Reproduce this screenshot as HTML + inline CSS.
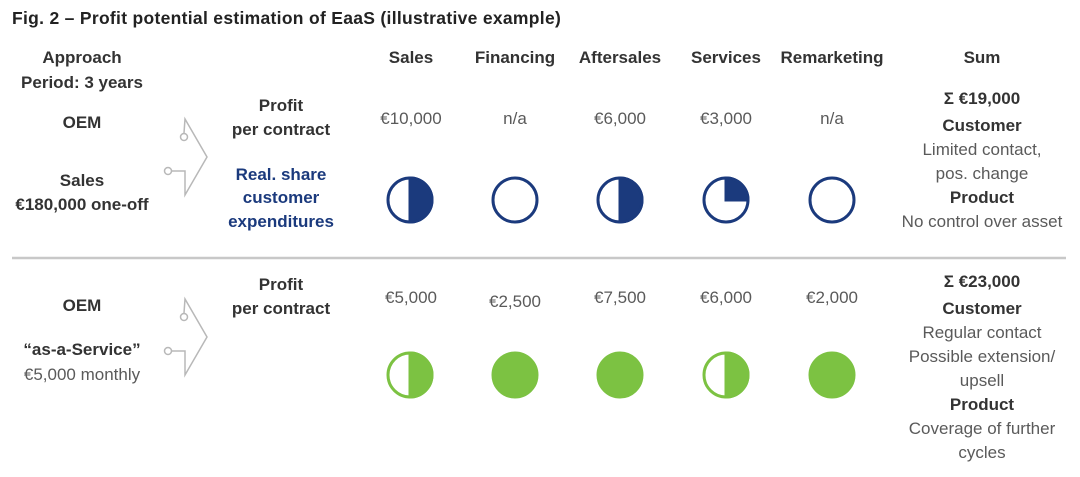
<!DOCTYPE html>
<html><head><meta charset="utf-8"><style>
body{margin:0;width:1080px;height:477px;background:#fff;position:relative;overflow:hidden;font-family:"Liberation Sans",Arial,sans-serif;}
.t{position:absolute;width:240px;text-align:center;font-size:17px;line-height:24px;color:#5a5a5a;white-space:nowrap;}
.b{font-weight:bold;color:#333;}
.bl{font-weight:bold;color:#1b3a7d;}
</style></head><body>
<div style="position:absolute;left:12px;top:8px;font-size:17.5px;letter-spacing:0.3px;font-weight:bold;color:#222;">Fig. 2 – Profit potential estimation of EaaS (illustrative example)</div>

<div class="t b" style="left:-38px;top:46px">Approach</div>
<div class="t b" style="left:-38px;top:71px">Period: 3 years</div>
<div class="t b" style="left:291px;top:46px">Sales</div>
<div class="t b" style="left:395px;top:46px">Financing</div>
<div class="t b" style="left:500px;top:46px">Aftersales</div>
<div class="t b" style="left:606px;top:46px">Services</div>
<div class="t b" style="left:712px;top:46px">Remarketing</div>
<div class="t b" style="left:862px;top:46px">Sum</div>

<div class="t b" style="left:-38px;top:111px">OEM</div>
<div class="t b" style="left:-38px;top:169px">Sales</div>
<div class="t b" style="left:-38px;top:193px">€180,000 one-off</div>
<div class="t b" style="left:161px;top:94px">Profit</div>
<div class="t b" style="left:161px;top:118px">per contract</div>
<div class="t bl" style="left:161px;top:163px">Real. share</div>
<div class="t bl" style="left:161px;top:186px">customer</div>
<div class="t bl" style="left:161px;top:210px">expenditures</div>
<div class="t" style="left:291px;top:107px">€10,000</div>
<div class="t" style="left:395px;top:107px">n/a</div>
<div class="t" style="left:500px;top:107px">€6,000</div>
<div class="t" style="left:606px;top:107px">€3,000</div>
<div class="t" style="left:712px;top:107px">n/a</div>
<div class="t b" style="left:862px;top:87px">Σ €19,000</div>
<div class="t b" style="left:862px;top:114px">Customer</div>
<div class="t" style="left:862px;top:138px">Limited contact,</div>
<div class="t" style="left:862px;top:162px">pos. change</div>
<div class="t b" style="left:862px;top:186px">Product</div>
<div class="t" style="left:862px;top:210px">No control over asset</div>

<div class="t b" style="left:-38px;top:294px">OEM</div>
<div class="t b" style="left:-38px;top:338px">“as-a-Service”</div>
<div class="t" style="left:-38px;top:363px">€5,000 monthly</div>
<div class="t b" style="left:161px;top:273px">Profit</div>
<div class="t b" style="left:161px;top:297px">per contract</div>
<div class="t" style="left:291px;top:286px">€5,000</div>
<div class="t" style="left:395px;top:290px">€2,500</div>
<div class="t" style="left:500px;top:286px">€7,500</div>
<div class="t" style="left:606px;top:286px">€6,000</div>
<div class="t" style="left:712px;top:286px">€2,000</div>
<div class="t b" style="left:862px;top:270px">Σ €23,000</div>
<div class="t b" style="left:862px;top:297px">Customer</div>
<div class="t" style="left:862px;top:321px">Regular contact</div>
<div class="t" style="left:862px;top:345px">Possible extension/</div>
<div class="t" style="left:862px;top:369px">upsell</div>
<div class="t b" style="left:862px;top:393px">Product</div>
<div class="t" style="left:862px;top:417px">Coverage of further</div>
<div class="t" style="left:862px;top:441px">cycles</div>

<svg width="1080" height="477" style="position:absolute;left:0;top:0">
<line x1="12" y1="258" x2="1066" y2="258" stroke="#c8c8c8" stroke-width="2.5"/>
<g fill="none" stroke="#b8b8b8" stroke-width="1.5">
<polyline points="184,133 185,119 207,157 185,195 185,171 172,171"/>
<circle cx="184" cy="137" r="3.5"/><circle cx="168" cy="171" r="3.5"/>
<polyline points="184,313 185,299 207,337 185,375 185,351 172,351"/>
<circle cx="184" cy="317" r="3.5"/><circle cx="168" cy="351" r="3.5"/>
</g>
<g stroke="#1b3a7d" stroke-width="3" fill="#fff">
<circle cx="410" cy="200" r="22"/><path d="M410,178 A22,22 0 0 1 410,222 Z" fill="#1b3a7d"/>
<circle cx="515" cy="200" r="22"/>
<circle cx="620" cy="200" r="22"/><path d="M620,178 A22,22 0 0 1 620,222 Z" fill="#1b3a7d"/>
<circle cx="726" cy="200" r="22"/><path d="M726,200 L726,178 A22,22 0 0 1 748,200 Z" fill="#1b3a7d"/>
<circle cx="832" cy="200" r="22"/>
</g>
<g stroke="#7cc242" stroke-width="3" fill="#7cc242">
<circle cx="410" cy="375" r="22" fill="#fff"/><path d="M410,353 A22,22 0 0 1 410,397 Z"/>
<circle cx="515" cy="375" r="22"/>
<circle cx="620" cy="375" r="22"/>
<circle cx="726" cy="375" r="22" fill="#fff"/><path d="M726,353 A22,22 0 0 1 726,397 Z"/>
<circle cx="832" cy="375" r="22"/>
</g>
</svg>
</body></html>
